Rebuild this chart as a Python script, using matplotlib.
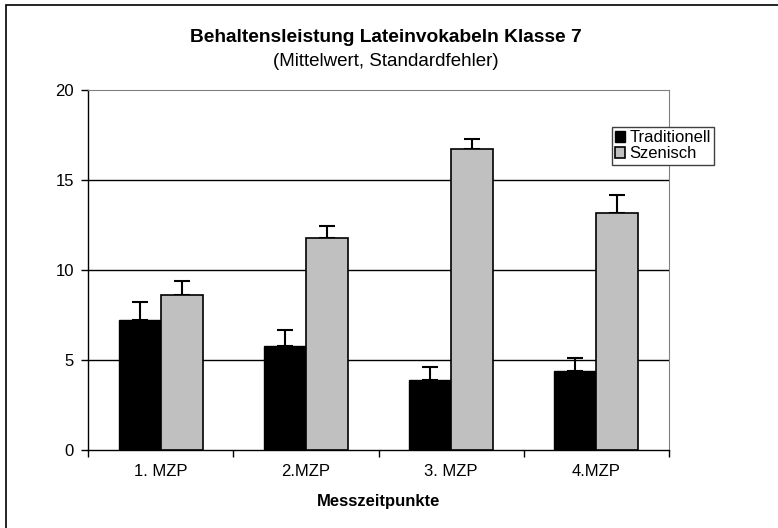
import matplotlib
matplotlib.use("Agg")
import matplotlib.pyplot as plt
import numpy as np
from matplotlib.patches import Rectangle

plt.rcParams['font.family'] = ['Liberation Sans', 'DejaVu Sans']

categories = ["1. MZP", "2.MZP", "3. MZP", "4.MZP"]
traditionell = [7.2, 5.8, 3.9, 4.4]
traditionell_se = [1.0, 0.85, 0.7, 0.7]
szenisch = [8.6, 11.8, 16.7, 13.15]
szenisch_se = [0.8, 0.65, 0.6, 1.0]

fig = plt.figure(figsize=(7.78, 5.28), dpi=100)
ax = fig.add_axes([88/778, 78/528, 581/778, 360/528])

x = np.arange(len(categories))
w = 0.29
ax.bar(x - w/2, traditionell, w, color='black', edgecolor='black', linewidth=1, label='Traditionell', zorder=3)
ax.bar(x + w/2, szenisch, w, color='#c0c0c0', edgecolor='black', linewidth=1.2, label='Szenisch', zorder=3)
ax.errorbar(x - w/2, traditionell, yerr=[np.zeros(4), traditionell_se], fmt='none',
            ecolor='black', elinewidth=1.5, capsize=6, capthick=1.5, zorder=2)
ax.errorbar(x + w/2, szenisch, yerr=[np.zeros(4), szenisch_se], fmt='none',
            ecolor='black', elinewidth=1.5, capsize=6, capthick=1.5, zorder=2)

ax.set_xlim(-0.5, 3.5)
ax.set_ylim(0, 20)
ax.set_yticks([0, 5, 10, 15, 20])
ax.set_xticks(x)
ax.set_xticklabels(categories, fontsize=12)
ax.set_xticks(np.arange(-0.5, 4.0, 1.0), minor=True)
ax.tick_params(axis='x', which='major', length=0, pad=10)
ax.tick_params(axis='x', which='minor', length=5, direction='out', width=1)
ax.tick_params(axis='y', length=5, direction='out', width=1, labelsize=12, pad=5)
for v in [5, 10, 15]:
    ax.axhline(v, color='black', linewidth=1, zorder=1)

ax.spines['top'].set_color('#808080')
ax.spines['right'].set_color('#808080')
ax.spines['left'].set_linewidth(1)
ax.spines['bottom'].set_linewidth(1)

ax.set_xlabel('Messzeitpunkte', fontsize=12, fontweight='bold', labelpad=11)

fig.text(386/778, 1 - 37/528, 'Behaltensleistung Lateinvokabeln Klasse 7',
         ha='center', va='center', fontsize=13.8, fontweight='bold')
fig.text(386/778, 1 - 61/528, '(Mittelwert, Standardfehler)',
         ha='center', va='center', fontsize=13.5)

leg = ax.legend(loc='upper left', bbox_to_anchor=(612/778, 1 - 127/528),
                bbox_transform=fig.transFigure, fontsize=12, frameon=True,
                fancybox=False, edgecolor='#404040', framealpha=1,
                handlelength=0.6, handleheight=0.6, handletextpad=0.25,
                borderpad=0.2, labelspacing=0.05, borderaxespad=0)
leg.get_frame().set_linewidth(1)

# outer frame of the chart area
fig.patches.append(Rectangle((6/778, -0.1), 1.2, 1 - 5/528 + 0.1,
                             transform=fig.transFigure, fill=False,
                             edgecolor='black', linewidth=1.2))

fig.savefig('out.png', dpi=100)
